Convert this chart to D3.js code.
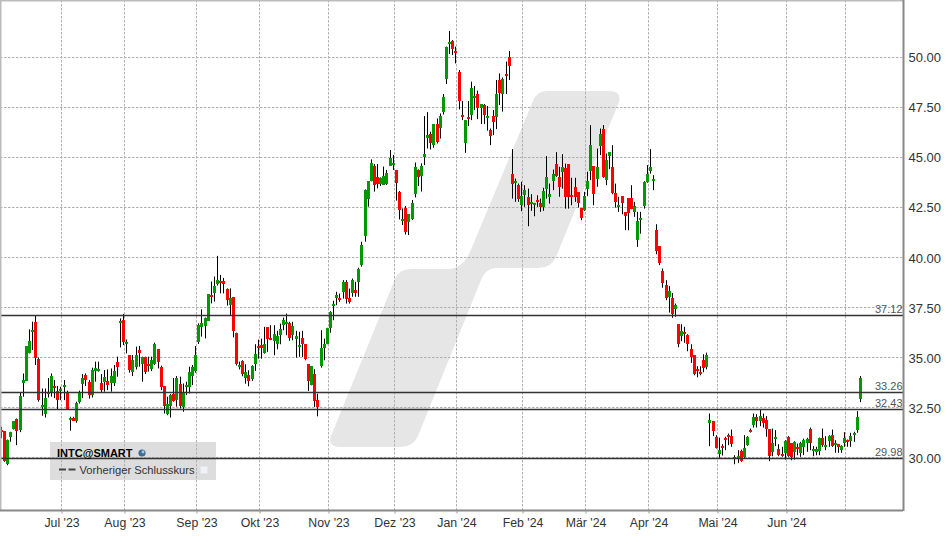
<!DOCTYPE html>
<html><head><meta charset="utf-8"><title>INTC@SMART</title>
<script src="https://cdnjs.cloudflare.com/ajax/libs/d3/7.8.5/d3.min.js"></script>
<style>html,body{margin:0;padding:0;background:#fff}svg{display:block}text{font-family:"Liberation Sans",Arial,sans-serif}</style>
</head><body><div id="chart"></div>
<script>
const opens=[31.4,31.35,29.73,31.05,31.43,31.95,31.4,33.77,33.85,35.23,
36.32,36.8,34.93,32.62,32.2,33.23,33.32,33.6,33.35,33.35,
33.55,33.28,31.93,32.03,31.85,32.82,33.7,34.13,33.8,33.15,
34.32,34.37,33.75,33.82,33.85,33.73,33.73,34.8,36.77,36.9,
35.73,35.15,34.32,34.57,35.4,34.73,35.05,34.68,34.47,34.7,
35.45,34.55,33.6,32.23,32.6,33.23,32.9,33.7,32.57,33.53,
33.53,34.1,34.37,35.82,36.53,36.6,36.85,38.13,38.27,38.7,
38.85,38.85,38.45,37.65,38.05,36.23,34.57,34.84,33.99,34.14,
33.94,34.69,35.61,35.64,35.26,36.54,35.99,35.84,35.69,36.14,
36.64,36.72,36.74,36.14,35.94,35.56,35.99,35.69,34.69,33.64,
34.19,32.89,34.62,35.49,35.69,36.51,37.61,38.01,38.02,38.29,
38.79,38.02,38.26,38.39,38.81,39.64,41.06,42.94,43.82,44.59,
44.02,43.69,43.66,43.69,44.61,44.64,44.39,43.29,41.84,42.49,
41.79,41.94,43.19,44.39,44.09,45.03,46.0,46.18,45.63,46.68,
46.5,47.28,48.93,50.7,50.83,50.33,49.28,47.13,45.73,47.03,
47.13,48.0,48.18,47.48,47.63,46.98,46.38,47.08,47.03,48.88,
48.18,49.18,50.03,44.18,43.73,43.63,42.63,43.13,43.03,42.73,
42.63,42.88,42.73,42.53,43.43,43.03,43.83,44.68,44.03,44.28,
44.48,44.68,43.13,43.53,43.28,42.48,42.38,43.43,44.33,44.58,
43.93,45.58,46.43,43.88,45.08,44.53,43.23,42.53,43.08,42.28,
42.98,42.98,42.28,40.88,41.88,42.58,43.78,44.33,43.83,41.38,
40.59,39.34,38.64,38.04,37.99,37.44,36.69,36.09,36.29,36.14,
35.44,35.14,34.44,34.29,34.89,34.54,31.77,31.85,31.05,30.2,
30.6,31.0,31.15,31.1,30.08,30.0,30.35,30.05,30.65,31.4,
31.65,32.05,31.85,32.0,31.9,31.45,30.3,30.95,30.45,30.2,
30.25,31.05,30.75,30.3,30.55,30.25,30.55,30.75,31.45,30.35,
30.3,30.35,31.0,30.55,30.85,31.15,30.65,30.7,30.4,30.75,
30.9,30.85,31.15,31.4,32.95];
const highs=[31.57,31.35,30.93,31.32,31.85,31.98,33.27,34.23,35.6,36.43,
36.82,37.15,35.03,33.48,33.48,34.0,34.23,33.9,33.6,33.57,
33.9,33.37,32.07,32.07,32.82,33.37,34.2,34.23,33.9,34.52,
34.82,34.82,34.2,34.4,34.43,34.48,34.65,35.07,36.98,37.2,
35.93,35.15,35.15,35.57,35.6,35.07,35.07,35.07,35.07,35.77,
35.45,34.62,33.6,33.07,33.2,34.0,34.1,34.07,33.73,33.82,
34.57,34.65,35.6,36.73,37.43,37.02,38.2,38.82,39.07,40.1,
39.15,39.0,38.48,38.48,38.05,36.27,34.82,34.89,34.69,34.39,
34.64,35.69,35.92,35.97,36.56,36.54,36.64,36.64,36.36,36.72,
37.02,37.22,36.81,36.81,36.36,36.31,36.36,35.69,34.69,34.59,
34.44,33.22,36.39,35.97,36.51,37.34,37.86,38.31,38.22,38.89,
38.89,38.47,38.97,38.81,39.51,40.81,43.42,43.82,44.92,44.69,
44.69,44.02,44.56,44.39,45.39,45.14,44.39,43.34,42.47,42.59,
42.19,42.89,44.76,44.42,44.72,47.08,47.28,46.3,46.68,46.96,
47.21,48.18,50.55,51.33,50.88,50.55,49.38,47.83,46.88,47.83,
48.8,48.58,48.35,47.68,47.68,47.58,46.46,47.38,48.88,49.21,
49.01,49.8,50.33,45.43,43.96,43.71,43.8,43.63,43.46,43.18,
42.75,43.13,42.96,43.5,45.08,43.71,44.41,45.28,44.55,45.18,
44.71,44.68,44.0,44.0,43.28,42.48,43.3,44.3,46.63,44.58,
45.46,46.46,46.63,45.21,45.28,45.63,43.71,43.05,43.08,42.28,
42.98,43.63,42.8,42.3,42.3,43.83,44.63,45.43,44.13,41.68,
40.59,39.47,38.89,38.59,38.24,37.72,36.69,36.69,36.56,36.19,
35.69,35.14,34.59,34.59,35.19,35.27,32.23,31.85,31.15,31.03,
30.7,31.07,31.23,31.43,30.15,30.4,30.43,31.15,31.1,31.48,
32.23,32.2,32.43,32.23,32.1,31.45,31.48,31.4,30.7,30.57,
30.9,31.1,30.75,30.85,30.73,30.82,30.98,31.02,31.53,30.6,
30.57,31.03,31.48,31.1,31.15,31.43,30.9,30.7,30.65,31.3,
30.93,31.27,31.32,32.35,34.1];
const lows=[31.0,29.82,29.65,30.82,31.43,30.65,31.3,33.07,33.85,35.23,
35.4,34.65,32.82,32.12,32.03,33.03,33.07,33.0,32.45,32.9,
32.9,32.45,31.37,31.85,31.77,32.73,33.0,33.6,32.98,33.03,
33.82,34.32,33.27,33.32,33.4,33.32,33.6,34.07,35.53,35.65,
35.23,34.27,34.1,34.43,34.57,33.82,34.2,34.32,34.35,34.65,
34.48,33.4,32.23,32.15,32.03,32.82,32.57,32.48,32.32,33.15,
33.23,33.65,34.27,35.7,36.07,35.98,36.85,37.73,37.82,38.62,
38.23,38.23,37.62,37.15,36.03,34.63,34.43,34.09,33.72,33.59,
33.86,34.36,34.97,34.97,35.22,35.31,35.89,35.14,35.44,35.69,
36.39,36.14,35.86,35.89,35.02,35.06,35.06,34.89,33.36,33.64,
32.56,32.09,34.52,34.89,35.69,36.26,36.89,37.64,37.81,37.97,
37.72,37.72,38.06,38.06,38.06,39.56,40.81,42.56,43.82,43.31,
43.47,43.59,43.66,43.64,44.61,44.39,42.86,41.92,41.64,41.17,
41.14,41.89,43.02,43.59,43.31,44.63,45.46,45.41,45.5,45.71,
45.96,47.16,48.68,50.18,50.13,49.71,47.41,46.88,45.25,46.58,
46.88,47.38,46.93,46.68,46.68,46.35,45.63,46.13,46.43,47.63,
47.3,48.18,48.88,42.96,42.8,42.8,42.33,42.55,41.58,42.35,
42.08,42.55,42.3,42.35,42.96,42.71,43.38,44.05,43.05,43.46,
42.46,42.46,42.63,42.8,42.51,41.88,42.35,43.08,43.88,42.63,
43.55,45.13,44.0,43.63,44.43,43.18,42.51,42.3,42.18,41.38,
41.38,42.43,42.05,40.55,41.21,42.46,43.75,44.21,43.38,40.18,
39.64,38.51,37.89,37.27,37.01,37.06,35.54,35.84,35.76,35.34,
34.76,34.14,34.04,34.14,34.29,34.44,30.6,31.1,30.48,30.02,
30.13,30.4,30.65,30.57,29.7,29.77,29.82,29.98,30.62,31.28,
31.53,31.53,31.6,31.53,31.07,29.85,30.1,30.6,30.1,30.07,
29.93,30.07,29.9,29.93,30.15,30.07,30.15,30.32,30.4,30.1,
30.15,30.15,30.57,30.4,30.57,30.57,30.27,30.27,30.27,30.57,
30.57,30.57,30.82,31.27,32.8];
const closes=[31.32,29.85,30.93,31.32,31.85,31.35,33.1,33.9,35.6,35.85,
36.4,35.02,32.9,32.68,33.02,33.33,34.1,33.53,32.9,33.43,
33.65,32.5,32.0,31.87,32.75,33.3,34.0,33.9,33.15,34.4,
34.48,34.43,33.4,34.05,33.65,34.1,34.35,34.57,36.85,35.82,
35.78,34.4,34.9,35.15,35.23,35.07,34.3,34.65,34.9,35.72,
34.78,33.57,32.6,32.73,33.15,32.9,34.0,32.62,33.27,33.63,
34.3,34.53,35.15,36.65,36.73,37.02,38.2,38.07,38.6,38.9,
38.75,38.7,37.9,37.98,36.35,34.7,34.65,34.19,34.31,33.86,
34.59,35.19,35.52,35.49,35.69,35.94,35.91,36.19,36.11,36.44,
36.89,36.81,36.0,36.59,36.09,35.64,35.69,34.94,33.84,34.59,
32.86,32.56,35.52,35.69,36.51,37.29,37.69,38.14,37.96,38.79,
37.94,37.81,38.89,38.26,39.44,40.64,43.37,43.82,44.74,43.66,
43.69,43.99,44.09,44.24,44.99,44.74,43.74,42.39,41.94,41.29,
42.19,42.74,44.54,44.04,44.59,45.18,46.16,45.73,46.68,45.78,
47.08,48.03,50.53,50.78,50.43,50.23,47.83,47.03,46.88,46.93,
48.48,48.08,47.48,47.68,47.13,47.08,46.08,46.78,48.18,48.23,
48.93,49.1,49.58,43.68,43.83,42.93,43.08,43.38,42.63,42.78,
42.73,42.78,42.53,43.33,44.03,43.18,44.18,44.08,43.53,44.53,
43.03,43.03,43.03,43.03,42.73,41.98,43.08,43.83,45.63,43.18,
44.53,46.18,44.03,44.88,45.28,43.23,42.78,42.63,42.73,42.08,
42.23,42.43,42.58,41.83,41.98,43.78,44.18,44.53,43.93,40.33,
39.72,38.74,37.99,38.34,37.19,37.64,35.69,36.34,36.19,35.69,
35.04,34.19,34.36,34.19,34.49,35.14,31.9,31.35,30.5,30.4,
30.5,30.9,31.05,30.7,30.03,30.1,29.85,30.5,31.05,31.3,
32.05,31.85,32.1,31.75,31.45,30.1,30.75,31.05,30.15,30.1,
30.85,30.1,30.05,30.8,30.45,30.75,30.9,30.95,30.75,30.45,
30.45,31.0,30.65,30.65,31.1,30.6,30.75,30.55,30.6,31.0,
30.8,31.1,31.25,32.05,34.0];
const monthIndex=[19,39,62,82,104,125,145,166,186,206,228,250,269];
const monthLabels=["Jul '23","Aug '23","Sep '23","Okt '23","Nov '23","Dez '23","Jan '24","Feb '24","Mär '24","Apr '24","Mai '24","Jun '24",""];
const priceTicks=[30,32.5,35,37.5,40,42.5,45,47.5,50];
const levels=[37.12,33.26,32.43,29.98];
const symbol="INTC@SMART";
const legendText="Vorheriger Schlusskurs";

const W=949,H=538,plotR=903,plotB=510;
const svg=d3.select('#chart').append('svg').attr('width',W).attr('height',H);
const x=d3.scaleLinear().domain([0,274]).range([1.3,860.4]);
const y=d3.scaleLinear().domain([30,50]).range([458.2,57.6]);
const px=i=>Math.floor(x(i));
const gridX=i=>px(i)+1.5;
const gridY=v=>Math.round(y(v))-0.5;

// watermark
svg.append('path').attr('fill','#e6e6e6')
 .attr('d','M547,91 L609,91 Q622,91 619,102 L556,257 Q551,268 539,268 L496,268 Q486,268 481,280 L418,436 Q413,447 401,447 L340,447 Q327,447 331,436 L395,279 Q399,269 411,269 L448,269 Q462,269 470,252 L533,101 Q537,91 547,91 Z');

// legend box below the grid
const lg=svg.append('g');
lg.append('rect').attr('x',50).attr('y',442).attr('width',166).attr('height',38).attr('fill','#dddddd');

// grid
const gridCol='#b0b0b0',dash='2.5,1.5';
svg.append('g').selectAll('line').data(priceTicks).join('line')
 .attr('x1',0).attr('x2',plotR).attr('y1',gridY).attr('y2',gridY)
 .attr('stroke',gridCol).attr('stroke-dasharray',dash);
svg.append('g').selectAll('line').data(monthIndex).join('line')
 .attr('x1',gridX).attr('x2',gridX).attr('y1',0).attr('y2',plotB)
 .attr('stroke',gridCol).attr('stroke-dasharray',dash);

// candles
const idx=d3.range(opens.length);
const g=svg.append('g');
g.selectAll('line').data(idx).join('line')
 .attr('x1',i=>px(i)+0.5).attr('x2',i=>px(i)+0.5)
 .attr('y1',i=>y(highs[i])).attr('y2',i=>y(lows[i]))
 .attr('stroke','#000').attr('stroke-width',1);
g.selectAll('rect').data(idx).join('rect')
 .attr('x',i=>px(i)-1).attr('width',3)
 .attr('y',i=>Math.round(y(Math.max(opens[i],closes[i]))))
 .attr('height',i=>Math.max(2,Math.round(Math.abs(y(opens[i])-y(closes[i])))))
 .attr('fill',i=>closes[i]>=opens[i]?'#009a00':'#ff0000');

// level lines & labels
svg.append('g').selectAll('line').data(levels).join('line')
 .attr('x1',0).attr('x2',plotR).attr('y1',gridY).attr('y2',gridY)
 .attr('stroke','#333').attr('stroke-width',1.35);
svg.append('g').selectAll('text').data(levels).join('text')
 .attr('x',902.5).attr('y',v=>gridY(v)-2.5).attr('text-anchor','end')
 .attr('font-size',11).attr('fill','#555').text(d3.format('.2f'));

// frame
svg.append('line').attr('x1',0).attr('x2',plotR).attr('y1',0.5).attr('y2',0.5).attr('stroke','#bbb').attr('stroke-width',2);
svg.append('line').attr('x1',0.5).attr('x2',0.5).attr('y1',0).attr('y2',plotB).attr('stroke','#bbb').attr('stroke-width',2);

// axes
const ax=svg.append('g').attr('transform',`translate(${plotR+0.5},0)`)
 .call(d3.axisRight(y).tickValues(priceTicks).tickFormat(d3.format('.2f')).tickSize(0).tickPadding(5));
ax.select('.domain').attr('d',`M0,0V${plotB+1}`).attr('stroke','#888').attr('stroke-width',2);
ax.selectAll('text').attr('font-size',13).attr('font-family','"Liberation Sans"').attr('fill','#333');
const xAxisScale=d3.scaleOrdinal().domain(monthIndex).range(monthIndex.map(gridX));
const bx=svg.append('g').attr('transform',`translate(0,${plotB+0.5})`)
 .call(d3.axisBottom(xAxisScale).tickValues(monthIndex).tickFormat((d,i)=>monthLabels[i]).tickSize(3).tickPadding(5));
bx.select('.domain').attr('d',`M0,0H${plotR}`).attr('stroke','#888').attr('stroke-width',2);
bx.selectAll('.tick line').attr('stroke','#999').attr('opacity',(d,i)=>monthLabels[i]?1:0);
bx.selectAll('text').attr('font-size',12.3).attr('font-family','"Liberation Sans"').attr('fill','#333');

// legend content
const lt=svg.append('g');
lt.append('text').attr('x',57).attr('y',457).attr('font-size',11).attr('font-weight','bold').attr('fill','#000').text(symbol);
lt.append('circle').attr('cx',142).attr('cy',453).attr('r',3.6).attr('fill','#3d6f96');
lt.append('circle').attr('cx',143).attr('cy',452).attr('r',1.4).attr('fill','#a9cbe2');
lt.append('line').attr('x1',59).attr('x2',76).attr('y1',469.5).attr('y2',469.5).attr('stroke','#444').attr('stroke-width',2).attr('stroke-dasharray','7,2.5');
lt.append('text').attr('x',79.5).attr('y',474).attr('font-size',11.2).attr('fill','#333').text(legendText);
lt.append('rect').attr('x',200.5).attr('y',466.5).attr('width',7).attr('height',7).attr('fill','#f1f1f8').attr('stroke','#e4e4ea');
</script></body></html>
